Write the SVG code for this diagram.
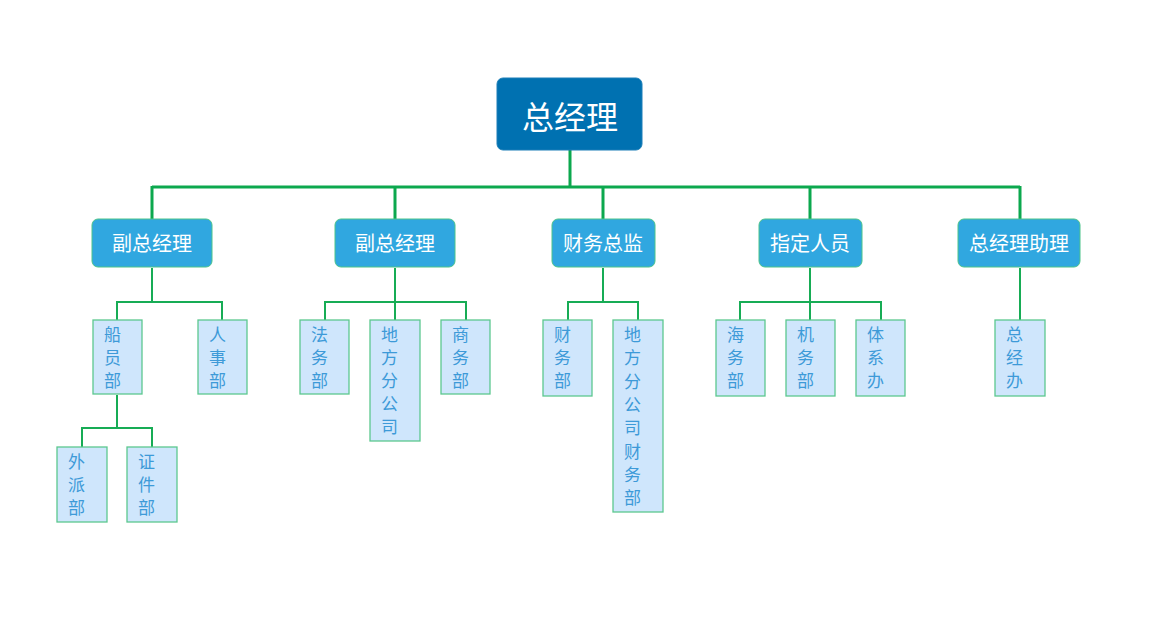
<svg xmlns="http://www.w3.org/2000/svg" width="1154" height="619" viewBox="0 0 1154 619">
<style>
.top{fill:#0071b1;stroke:#1d7fb8;stroke-width:1}
.l2{fill:#30a7e0;stroke:#4cc48a;stroke-width:1}
.l3{fill:#cfe6fc;stroke:#5cc88f;stroke-width:1.3}
.t{font-family:"Noto Sans CJK SC","Noto Sans CJK JP",sans-serif;fill:#fff;text-anchor:middle}
.c{font-family:"Noto Sans CJK SC","Noto Sans CJK JP",sans-serif;fill:#3d9ad8;font-size:17px}
.main{fill:none;stroke:#0ca84e;stroke-width:3}
.sub{fill:none;stroke:#17ac55;stroke-width:2}
</style>
<rect width="1154" height="619" fill="#fff"/>
<g id="connectors">
<path class="main" d="M570 150V187M152 187H1020M152 186V219M395 186V219M603 186V219M810 186V219M1020 186V219"/>
<path class="sub" d="M152 268V302M117 302H222M117 301V320M222 301V320"/>
<path class="sub" d="M117 395V428M82 428H152M82 427V447M152 427V447"/>
<path class="sub" d="M395 268V320M325 302H466M325 301V320M466 301V320"/>
<path class="sub" d="M603 268V302M568 302H638M568 301V320M638 301V320"/>
<path class="sub" d="M810 268V320M740 302H881M740 301V320M881 301V320"/>
<path class="sub" d="M1020 268V320"/>
</g>
<g id="n0"><rect class="top" x="497" y="78" width="145" height="72" rx="6"/><text class="t" x="570" y="129" font-size="32">总经理</text></g>
<g id="n1"><rect class="l2" x="92" y="219" width="120" height="48" rx="6"/><text class="t" x="152" y="251" font-size="20">副总经理</text></g>
<g id="n2"><rect class="l2" x="335" y="219" width="120" height="48" rx="6"/><text class="t" x="395" y="251" font-size="20">副总经理</text></g>
<g id="n3"><rect class="l2" x="552" y="219" width="103" height="48" rx="6"/><text class="t" x="603" y="251" font-size="20">财务总监</text></g>
<g id="n4"><rect class="l2" x="759" y="219" width="103" height="48" rx="6"/><text class="t" x="810" y="251" font-size="20">指定人员</text></g>
<g id="n5"><rect class="l2" x="958" y="219" width="122" height="48" rx="6"/><text class="t" x="1019" y="251" font-size="20">总经理助理</text></g>
<g id="n6"><rect class="l3" x="93" y="320" width="49" height="74"/><text class="c" x="104" y="341">船<tspan x="104" dy="23">员</tspan><tspan x="104" dy="23">部</tspan></text></g>
<g id="n7"><rect class="l3" x="198" y="320" width="49" height="74"/><text class="c" x="209" y="341">人<tspan x="209" dy="23">事</tspan><tspan x="209" dy="23">部</tspan></text></g>
<g id="n8"><rect class="l3" x="57" y="447" width="50" height="75"/><text class="c" x="68" y="468">外<tspan x="68" dy="23">派</tspan><tspan x="68" dy="23">部</tspan></text></g>
<g id="n9"><rect class="l3" x="127" y="447" width="50" height="75"/><text class="c" x="138" y="468">证<tspan x="138" dy="23">件</tspan><tspan x="138" dy="23">部</tspan></text></g>
<g id="n10"><rect class="l3" x="300" y="320" width="49" height="74"/><text class="c" x="311" y="341">法<tspan x="311" dy="23">务</tspan><tspan x="311" dy="23">部</tspan></text></g>
<g id="n11"><rect class="l3" x="370" y="320" width="50" height="121"/><text class="c" x="381" y="341">地<tspan x="381" dy="23">方</tspan><tspan x="381" dy="23">分</tspan><tspan x="381" dy="23">公</tspan><tspan x="381" dy="23">司</tspan></text></g>
<g id="n12"><rect class="l3" x="441" y="320" width="49" height="74"/><text class="c" x="452" y="341">商<tspan x="452" dy="23">务</tspan><tspan x="452" dy="23">部</tspan></text></g>
<g id="n13"><rect class="l3" x="543" y="320" width="49" height="76"/><text class="c" x="554" y="341">财<tspan x="554" dy="23">务</tspan><tspan x="554" dy="23">部</tspan></text></g>
<g id="n14"><rect class="l3" x="613" y="320" width="50" height="192"/><text class="c" x="624" y="341">地<tspan x="624" dy="23.3">方</tspan><tspan x="624" dy="23.3">分</tspan><tspan x="624" dy="23.3">公</tspan><tspan x="624" dy="23.3">司</tspan><tspan x="624" dy="23.3">财</tspan><tspan x="624" dy="23.3">务</tspan><tspan x="624" dy="23.3">部</tspan></text></g>
<g id="n15"><rect class="l3" x="716" y="320" width="49" height="76"/><text class="c" x="727" y="341">海<tspan x="727" dy="23">务</tspan><tspan x="727" dy="23">部</tspan></text></g>
<g id="n16"><rect class="l3" x="786" y="320" width="49" height="76"/><text class="c" x="797" y="341">机<tspan x="797" dy="23">务</tspan><tspan x="797" dy="23">部</tspan></text></g>
<g id="n17"><rect class="l3" x="856" y="320" width="49" height="76"/><text class="c" x="867" y="341">体<tspan x="867" dy="23">系</tspan><tspan x="867" dy="23">办</tspan></text></g>
<g id="n18"><rect class="l3" x="995" y="320" width="50" height="76"/><text class="c" x="1006" y="341">总<tspan x="1006" dy="23">经</tspan><tspan x="1006" dy="23">办</tspan></text></g>
</svg>
